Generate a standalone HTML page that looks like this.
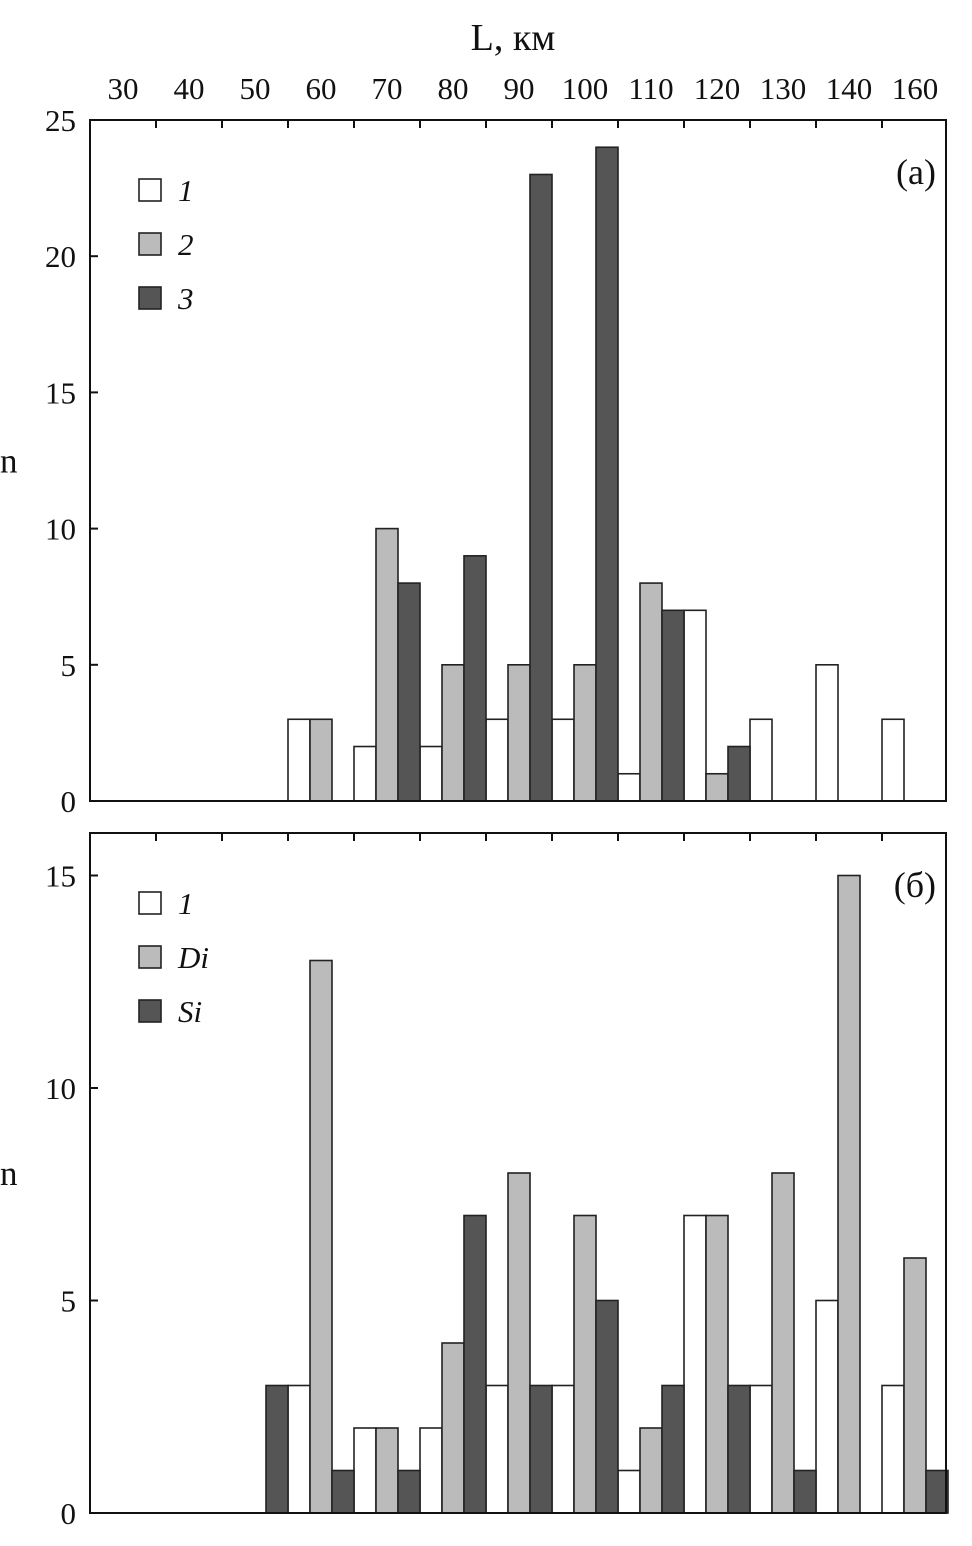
<!DOCTYPE html>
<html><head><meta charset="utf-8"><style>
body{margin:0;background:#fff}
svg text{font-family:"Liberation Serif",serif;fill:#111}
</style></head><body>
<svg id="chart" width="972" height="1541" viewBox="0 0 972 1541" xmlns="http://www.w3.org/2000/svg"></svg>
<script>
const groupLabels=["30","40","50","60","70","80","90","100","110","120","130","140","160"];
const seriesA1=[0,0,0,3,2,2,3,3,1,7,3,5,3];
const seriesA2=[0,0,0,3,10,5,5,5,8,1,0,0,0];
const seriesA3=[0,0,0,0,8,9,23,24,7,2,0,0,0];
const seriesB1=[0,0,0,3,2,2,3,3,1,7,3,5,3];
const seriesBDi=[0,0,0,13,2,4,8,7,2,7,8,15,6];
const seriesBSi=[0,0,3,1,1,7,3,5,3,3,1,0,1];
const ticksA=[0,5,10,15,20,25];
const ticksB=[0,5,10,15];
const NS="http://www.w3.org/2000/svg";
const svg=document.getElementById('chart');
function mk(tag,attrs,parent){const e=document.createElementNS(NS,tag);for(const k in attrs)e.setAttribute(k,attrs[k]);(parent||svg).appendChild(e);return e;}
const X0=90,X1=946,GW=66,BW=22;
const xs=i=>X0+i*GW;
const fills=["#ffffff","#bbbbbb","#555555"];
function panel(name,top,bottom,ymax,series,ticks,letter,legendNames){
  const g=mk('g',{});
  
  
  const ys=v=>bottom-v*(bottom-top)/ymax;
  series.forEach((s,si)=>{
    s.forEach((v,i)=>{
      if(v<=0)return;
      const r=mk('rect',{x:xs(i)+si*BW,y:ys(v),width:BW,height:bottom-ys(v),fill:fills[si],stroke:'#222','stroke-width':1.6},g);
      
      
    });
  });
  const box=mk('rect',{x:X0,y:top,width:X1-X0,height:bottom-top,fill:'none',stroke:'#111','stroke-width':2},g);
  
  
  for(let i=1;i<groupLabels.length;i++){
    mk('line',{x1:xs(i),x2:xs(i),y1:top,y2:top+8,stroke:'#111','stroke-width':2},g);
  }
  ticks.forEach(t=>{
    mk('line',{x1:X0,x2:X0+8,y1:ys(t),y2:ys(t),stroke:'#111','stroke-width':2},g);
    const tx=mk('text',{x:76,y:ys(t)+11,'font-size':31,'text-anchor':'end'},g);
    tx.textContent=t;
    
    
  });
  const yt=mk('text',{x:0,y:(top+bottom)/2+12,'font-size':35},g);
  yt.textContent='n';
  
  
  const pl=mk('text',{x:936,y:top+64,'font-size':36,'text-anchor':'end'},g);
  pl.textContent=letter;
  
  
  legendNames.forEach((n,k)=>{
    const ly=top+59+k*54;
    const lr=mk('rect',{x:139,y:ly,width:22,height:22,fill:fills[k],stroke:'#222','stroke-width':1.6},g);
    
    
    const lt=mk('text',{x:178,y:ly+22,'font-size':31,'font-style':'italic'},g);
    lt.textContent=n;
    
    
  });
}
groupLabels.forEach((l,i)=>{
  const t=mk('text',{x:xs(i)+GW/2,y:99,'font-size':31,'text-anchor':'middle'});
  t.textContent=l;
  
  
});
const xt=mk('text',{x:513,y:50,'font-size':38,'text-anchor':'middle'});
xt.textContent='L, км';


panel('panel-a',120,801,25,[seriesA1,seriesA2,seriesA3],ticksA,'(а)',['1','2','3']);
panel('panel-b',833,1513,16,[seriesB1,seriesBDi,seriesBSi],ticksB,'(б)',['1','Di','Si']);
</script>
</body></html>
